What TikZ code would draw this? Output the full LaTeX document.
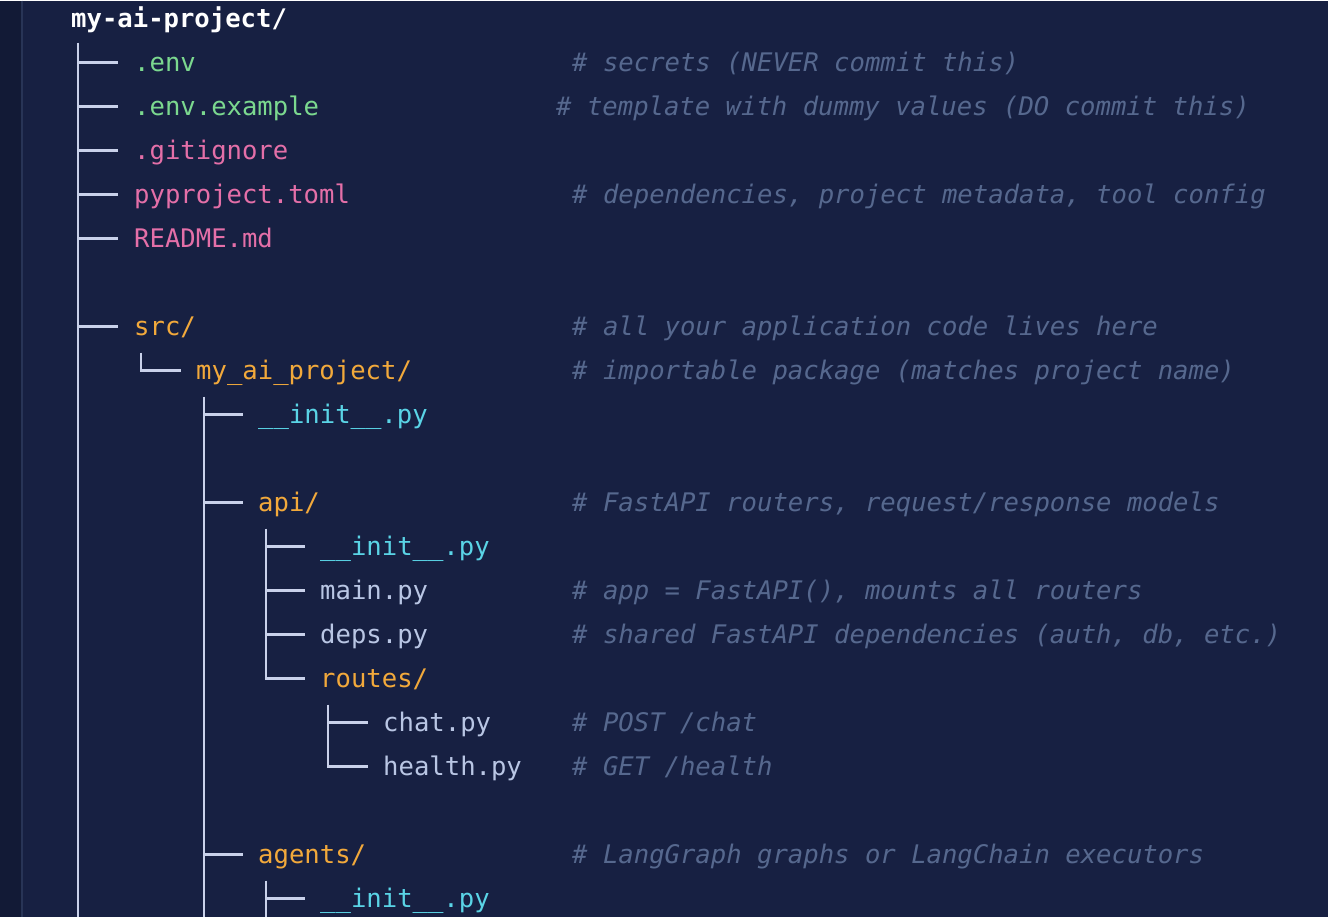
\documentclass[tikz,border=0pt]{standalone}
\usepackage{fontspec}
\setmonofont{DejaVu Sans Mono}
\definecolor{bg}{HTML}{172042}
\definecolor{gut}{HTML}{121a36}
\definecolor{gline}{HTML}{283456}
\definecolor{tr}{HTML}{C9D1EA}
\definecolor{cgreen}{HTML}{7BD88F}
\definecolor{cpink}{HTML}{E46FA8}
\definecolor{cor}{HTML}{F2A93B}
\definecolor{ccy}{HTML}{5AD4E6}
\definecolor{cfile}{HTML}{B9C6E4}
\definecolor{ccm}{HTML}{56688E}
\tikzset{
 txt/.style={anchor=base west,inner sep=0pt,font=\ttfamily\fontsize{25.6}{30}\selectfont},
 cmt/.style={txt,text=ccm,font=\ttfamily\itshape\fontsize{25.6}{30}\selectfont},
 brl/.style={draw=tr,line width=2.4pt}
}
\begin{document}
\begin{tikzpicture}[x=1pt,y=-1pt]
\fill[bg] (0,0) rectangle (1328,916);
\fill[gut] (0,0) rectangle (22,916);
\draw[gline,line width=1.2pt] (22,0) -- (22,916);
\useasboundingbox (0,0) rectangle (1328,916);
% tree lines
\draw[brl] (78,42) -- (78,916);
\foreach \y in {62,106,150,194,238,326} \draw[brl] (78,\y) -- (118,\y);
\draw[brl] (141,352) -- (141,370) -- (181,370);
\draw[brl] (204,396) -- (204,916);
\foreach \y in {414,502,854} \draw[brl] (204,\y) -- (243,\y);
\draw[brl] (266,528) -- (266,678) -- (305,678);
\foreach \y in {546,590,634} \draw[brl] (266,\y) -- (305,\y);
\draw[brl] (266,880) -- (266,916);
\draw[brl] (266,898) -- (305,898);
\draw[brl] (328,704) -- (328,766) -- (368,766);
\draw[brl] (328,722) -- (368,722);
% texts
\node[txt,text=white,font=\ttfamily\bfseries\fontsize{25.6}{30}\selectfont] (root) at (71,27) {my-ai-project/};
\node[txt,text=cgreen] (env) at (134,71) {.env};
\node[cmt] (c1) at (572,71) {\# secrets (NEVER commit this)};
\node[txt,text=cgreen] (envex) at (134,115) {.env.example};
\node[cmt] (c2) at (556,115) {\# template with dummy values (DO commit this)};
\node[txt,text=cpink] (gi) at (134,159) {.gitignore};
\node[txt,text=cpink] (pp) at (134,203) {pyproject.toml};
\node[cmt] (c3) at (572,203) {\# dependencies, project metadata, tool config};
\node[txt,text=cpink] (rd) at (134,247) {README.md};
\node[txt,text=cor] (src) at (134,335) {src/};
\node[cmt] (c4) at (572,335) {\# all your application code lives here};
\node[txt,text=cor] (pkg) at (196,379) {my\_ai\_project/};
\node[cmt] (c5) at (572,379) {\# importable package (matches project name)};
\node[txt,text=ccy] (i1) at (258,423) {\_\_init\_\_.py};
\node[txt,text=cor] (api) at (258,511) {api/};
\node[cmt] (c6) at (572,511) {\# FastAPI routers, request/response models};
\node[txt,text=ccy] (i2) at (320,555) {\_\_init\_\_.py};
\node[txt,text=cfile] (mn) at (320,599) {main.py};
\node[cmt] (c7) at (572,599) {\# app = FastAPI(), mounts all routers};
\node[txt,text=cfile] (dp) at (320,643) {deps.py};
\node[cmt] (c8) at (572,643) {\# shared FastAPI dependencies (auth, db, etc.)};
\node[txt,text=cor] (rt) at (320,687) {routes/};
\node[txt,text=cfile] (ch) at (383,731) {chat.py};
\node[cmt] (c9) at (572,731) {\# POST /chat};
\node[txt,text=cfile] (hl) at (383,775) {health.py};
\node[cmt] (c10) at (572,775) {\# GET /health};
\node[txt,text=cor] (ag) at (258,863) {agents/};
\node[cmt] (c11) at (572,863) {\# LangGraph graphs or LangChain executors};
\node[txt,text=ccy] (i3) at (320,907) {\_\_init\_\_.py};
\end{tikzpicture}
\end{document}
